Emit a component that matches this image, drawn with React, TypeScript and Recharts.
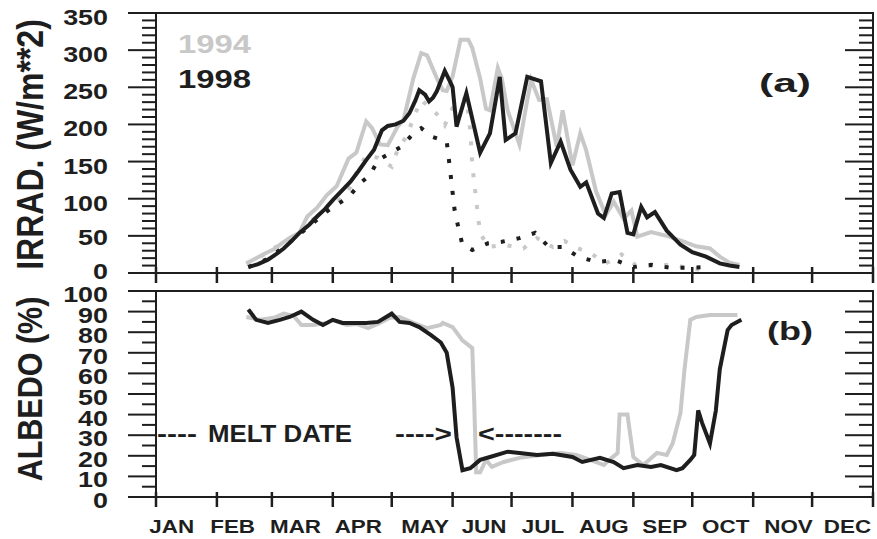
import React from 'react';
import { LineChart, Line, XAxis, YAxis, ReferenceArea } from 'recharts';

const INK = '#1e1e1e';
const GREY = '#c8c8c8';
const FONT = '"Liberation Sans", Arial, Helvetica, sans-serif';

const CHART_W = 877;
const AXIS_W = 156;
const RIGHT_W = 4;
const PX_PER_DAY = (CHART_W - AXIS_W - RIGHT_W) / 365;

const MONTHS = ['JAN', 'FEB', 'MAR', 'APR', 'MAY', 'JUN', 'JUL', 'AUG', 'SEP', 'OCT', 'NOV', 'DEC'];
const MONTH_STARTS = [0, 31, 59, 90, 120, 151, 181, 212, 243, 273, 304, 334, 365];
const MONTH_LABEL_DAYS = [8, 39, 71, 103, 137, 167, 197, 228, 259, 290, 322, 352];

const IRR_TICKS = [0, 10, 20, 30, 40, 50, 60, 70, 80, 90, 100, 110, 120, 130, 140, 150, 160, 170, 180, 190, 200,
  210, 220, 230, 240, 250, 260, 270, 280, 290, 300, 310, 320, 330, 340, 350];
const ALB_TICKS = [0, 5, 10, 15, 20, 25, 30, 35, 40, 45, 50, 55, 60, 65, 70, 75, 80, 85, 90, 95, 100];

// [day of year, W/m**2]
const IRR_1994 = [[46, 13], [51, 20], [56, 27], [60, 32], [64, 40], [68, 47], [73, 54], [77, 76], [82, 88], [87, 105],
  [92, 117], [98, 154], [102, 162], [107, 204], [110, 195], [114, 173], [118, 172], [123, 197], [126, 206], [131, 262],
  [135, 296], [138, 293], [143, 262], [146, 246], [148, 245], [151, 265], [155, 314], [159, 314], [161, 303], [165, 262],
  [168, 221], [170, 219], [174, 276], [176, 262], [179, 219], [185, 173], [189, 233], [191, 260], [195, 233], [199, 234],
  [204, 170], [207, 219], [212, 145], [216, 188], [219, 165], [224, 110], [229, 78], [233, 96], [238, 73], [242, 84],
  [245, 49], [252, 55], [260, 50], [268, 43], [275, 36], [282, 33], [287, 22], [292, 14], [297, 11]];

const IRR_1998 = [[47, 8], [52, 12], [57, 18], [61, 25], [65, 33], [69, 43], [73, 54], [78, 65], [82, 76], [86, 86],
  [90, 98], [95, 112], [99, 123], [103, 137], [107, 152], [111, 166], [115, 192], [118, 198], [122, 200], [126, 205],
  [129, 215], [132, 232], [134, 246], [137, 240], [139, 231], [141, 236], [143, 245], [147, 272], [150, 256], [151, 250],
  [153, 197], [158, 242], [165, 162], [170, 188], [175, 264], [178, 179], [183, 188], [189, 264], [196, 258], [201, 148],
  [206, 177], [211, 139], [216, 116], [219, 122], [225, 80], [228, 74], [232, 107], [236, 109], [240, 54], [243, 52],
  [247, 89], [250, 75], [254, 82], [260, 57], [267, 38], [273, 28], [280, 22], [287, 13], [292, 10], [297, 8]];

// dotted curves
const NET_1994 = [[46, 12], [55, 25], [64, 40], [72, 52], [77, 68], [86, 82], [93, 98], [97, 105], [101, 129], [107, 159],
  [113, 155], [120, 143], [123, 166], [128, 186], [131, 209], [135, 233], [143, 214], [147, 199], [151, 222], [158, 236],
  [160, 192], [161, 145], [162, 122], [163, 98], [164, 75], [165, 54], [169, 35], [177, 38], [187, 33], [194, 47],
  [202, 35], [208, 43], [214, 34], [221, 27], [229, 13], [237, 25], [244, 11], [254, 9], [263, 12], [271, 6], [280, 4]];

const NET_1998 = [[47, 8], [56, 18], [65, 35], [72, 50], [79, 65], [86, 81], [92, 92], [98, 102], [104, 121], [109, 132],
  [113, 152], [125, 170], [131, 188], [135, 195], [141, 183], [148, 177], [149, 155], [150, 132], [151, 108], [152, 85],
  [154, 60], [156, 38], [161, 31], [169, 40], [176, 42], [185, 47], [193, 54], [200, 35], [207, 35], [215, 22],
  [224, 15], [234, 17], [243, 8], [252, 11], [262, 7], [271, 7], [280, 8]];

// [day of year, %]
const ALB_1994 = [[46, 87.4], [53, 86], [60, 87], [65, 89], [70, 88], [74, 83.5], [80, 83.5], [87, 84.5], [90, 86],
  [97, 83.5], [102, 84], [108, 82], [114, 84.5], [119, 87], [124, 87.4], [131, 84.5], [138, 82], [145, 83.5], [146, 84.5],
  [151, 82.5], [156, 76], [161, 72.3], [162, 45.6], [163, 12], [165, 12], [168, 18], [171, 14.6], [177, 17], [185, 19],
  [196, 20.4], [206, 21.4], [214, 20.4], [221, 18], [228, 15.5], [232, 19], [235, 21.4], [236, 40], [240, 40],
  [243, 19.4], [248, 15.5], [251, 18], [255, 21.4], [260, 20.4], [263, 26], [267, 40.8], [269, 61.6], [272, 86],
  [275, 87.4], [282, 88.3], [296, 88.3]];

const ALB_1998 = [[47, 91], [51, 86], [57, 84.5], [63, 86], [68, 87.4], [74, 90], [80, 86], [85, 83.5], [90, 86],
  [95, 84.5], [100, 84.5], [107, 84.5], [113, 85], [120, 89], [124, 85], [129, 84.5], [134, 82.5], [140, 78.6], [145, 75],
  [148, 70], [151, 53], [152, 41], [153, 29], [156, 13], [160, 14], [165, 18], [170, 19.4], [179, 22], [185, 21.4],
  [194, 20.4], [202, 21], [212, 19.4], [217, 17], [226, 19], [233, 17], [238, 14], [245, 15.5], [252, 14.6], [257, 15.5],
  [265, 13], [268, 14], [272, 18], [274, 20.4], [276, 42], [278, 36], [282, 26], [285, 42], [287, 62], [291, 81],
  [293, 83.5], [298, 86]];

const toPoints = (pairs: number[][]) => pairs.map(([day, v]) => ({ day, v }));

// labels of the irradiance axis sit a little tighter than its ticks
const irrLabelShift = (v: number) => Math.min(4.5, -1.5 + v * 0.06);
const albLabelShift = () => 3.5;

const LeftTick = (props: any) => {
  const { x, y, payload, every, shift } = props;
  const major = payload.value % every === 0;
  return (
    <g>
      <line x1={x - (major ? 28 : 14)} x2={x} y1={y} y2={y} stroke={INK} strokeWidth={2} />
      {major && (
        <text
          transform={`translate(${x - 48},${y + shift(payload.value) + 7.5}) scale(1.25,1)`}
          textAnchor="end"
          fontFamily={FONT}
          fontWeight="bold"
          fontSize={21.5}
          fill={INK}
        >
          {payload.value}
        </text>
      )}
    </g>
  );
};

const RightTick = (props: any) => {
  const { x, y, payload, every } = props;
  const major = payload.value % every === 0;
  return <line x1={x - (major ? 28 : 14)} x2={x} y1={y} y2={y} stroke={INK} strokeWidth={2} />;
};

const MonthTick = (props: any) => {
  const { x, y, payload, up, withLabel } = props;
  const i = MONTH_STARTS.indexOf(payload.value);
  const showLabel = withLabel && i >= 0 && i < MONTHS.length;
  const cx = showLabel ? x + (MONTH_LABEL_DAYS[i] - MONTH_STARTS[i]) * PX_PER_DAY : x;
  return (
    <g>
      <line x1={x} x2={x} y1={y - up} y2={y + 10} stroke={INK} strokeWidth={2.5} />
      {showLabel && (
        <text
          transform={`translate(${cx},${y + 36}) scale(1.18,1)`}
          textAnchor="middle"
          fontFamily={FONT}
          fontWeight="bold"
          fontSize={19}
          fill={INK}
        >
          {MONTHS[i]}
        </text>
      )}
    </g>
  );
};

const lineProps = { type: 'linear' as const, dataKey: 'v', dot: false, isAnimationActive: false, yAxisId: 'l' };

const App: React.FC = () => {
  return (
    <div style={{ position: 'absolute', left: 0, top: 0, width: 877, height: 539, background: '#fff' }}>
      <div style={{ position: 'absolute', left: 0, top: 0 }}>
        <LineChart width={CHART_W} height={290} margin={{ top: 13, right: 0, bottom: 0, left: 0 }}>
          <XAxis
            dataKey="day"
            type="number"
            domain={[0, 365]}
            ticks={MONTH_STARTS}
            interval={0}
            height={17}
            axisLine={false}
            tickLine={false}
            tickSize={0}
            tickMargin={0}
            tick={(p: any) => <MonthTick {...p} up={6} withLabel={false} />}
          />
          <YAxis
            yAxisId="l"
            type="number"
            domain={[0, 350]}
            ticks={IRR_TICKS}
            interval={0}
            width={AXIS_W}
            axisLine={false}
            tickLine={false}
            tickSize={0}
            tickMargin={0}
            tick={(p: any) => <LeftTick {...p} every={50} shift={irrLabelShift} />}
          />
          <YAxis
            yAxisId="r"
            orientation="right"
            type="number"
            domain={[0, 350]}
            allowDataOverflow
            ticks={IRR_TICKS}
            interval={0}
            width={RIGHT_W}
            axisLine={false}
            tickLine={false}
            tickSize={0}
            tickMargin={0}
            tick={(p: any) => <RightTick {...p} every={50} />}
          />
          <ReferenceArea yAxisId="l" x1={0} x2={365} y1={0} y2={350} fill="none" stroke={INK} strokeWidth={2} />
          <Line {...lineProps} data={toPoints(NET_1994)} stroke={GREY} strokeWidth={4} strokeDasharray="4 12" />
          <Line {...lineProps} data={toPoints(NET_1998)} stroke={INK} strokeWidth={4} strokeDasharray="4 12" />
          <Line {...lineProps} data={toPoints(IRR_1994)} stroke={GREY} strokeWidth={4} />
          <Line {...lineProps} data={toPoints(IRR_1998)} stroke={INK} strokeWidth={4} />
        </LineChart>
      </div>
      <div style={{ position: 'absolute', left: 0, top: 280 }}>
        <LineChart width={CHART_W} height={259} margin={{ top: 11, right: 0, bottom: 0, left: 0 }}>
          <XAxis
            dataKey="day"
            type="number"
            domain={[0, 365]}
            ticks={MONTH_STARTS}
            interval={0}
            height={42}
            axisLine={false}
            tickLine={false}
            tickSize={0}
            tickMargin={0}
            tick={(p: any) => <MonthTick {...p} up={5} withLabel />}
          />
          <YAxis
            yAxisId="l"
            type="number"
            domain={[0, 100]}
            ticks={ALB_TICKS}
            interval={0}
            width={AXIS_W}
            axisLine={false}
            tickLine={false}
            tickSize={0}
            tickMargin={0}
            tick={(p: any) => <LeftTick {...p} every={10} shift={albLabelShift} />}
          />
          <YAxis
            yAxisId="r"
            orientation="right"
            type="number"
            domain={[0, 100]}
            allowDataOverflow
            ticks={ALB_TICKS}
            interval={0}
            width={RIGHT_W}
            axisLine={false}
            tickLine={false}
            tickSize={0}
            tickMargin={0}
            tick={(p: any) => <RightTick {...p} every={10} />}
          />
          <ReferenceArea yAxisId="l" x1={0} x2={365} y1={0} y2={100} fill="none" stroke={INK} strokeWidth={2} />
          <Line {...lineProps} data={toPoints(ALB_1994)} stroke={GREY} strokeWidth={4} />
          <Line {...lineProps} data={toPoints(ALB_1998)} stroke={INK} strokeWidth={4} />
        </LineChart>
      </div>
      <svg
        width={877}
        height={539}
        style={{ position: 'absolute', left: 0, top: 0, pointerEvents: 'none' }}
        fontFamily={FONT}
        fontWeight="bold"
      >
        <text transform="translate(43,144.5) scale(1.18,1) rotate(-90)" textAnchor="middle" fontSize={32} fill={INK}>
          IRRAD. (W/m**2)
        </text>
        <text transform="translate(42,389) scale(1.14,1) rotate(-90)" textAnchor="middle" fontSize={30.5} fill={INK}>
          ALBEDO (%)
        </text>
        <text x={178} y={53} fontSize={25} fill={GREY} textLength={73} lengthAdjust="spacingAndGlyphs">1994</text>
        <text x={178} y={88} fontSize={25} fill={INK} textLength={73} lengthAdjust="spacingAndGlyphs">1998</text>
        <text x={759} y={92} fontSize={26} fill={INK} textLength={52} lengthAdjust="spacingAndGlyphs">(a)</text>
        <text x={767} y={340} fontSize={26} fill={INK} textLength={46} lengthAdjust="spacingAndGlyphs">(b)</text>
        <text x={157} y={442} fontSize={23.5} fill={INK} textLength={40} lengthAdjust="spacingAndGlyphs">----</text>
        <text x={208} y={442} fontSize={23.5} fill={INK} textLength={144} lengthAdjust="spacingAndGlyphs">MELT DATE</text>
        <text x={395} y={442} fontSize={23.5} fill={INK} textLength={57} lengthAdjust="spacingAndGlyphs">----&gt;</text>
        <text x={478} y={442} fontSize={23.5} fill={INK} textLength={84} lengthAdjust="spacingAndGlyphs">&lt;-------</text>
      </svg>
    </div>
  );
};

export default App;
